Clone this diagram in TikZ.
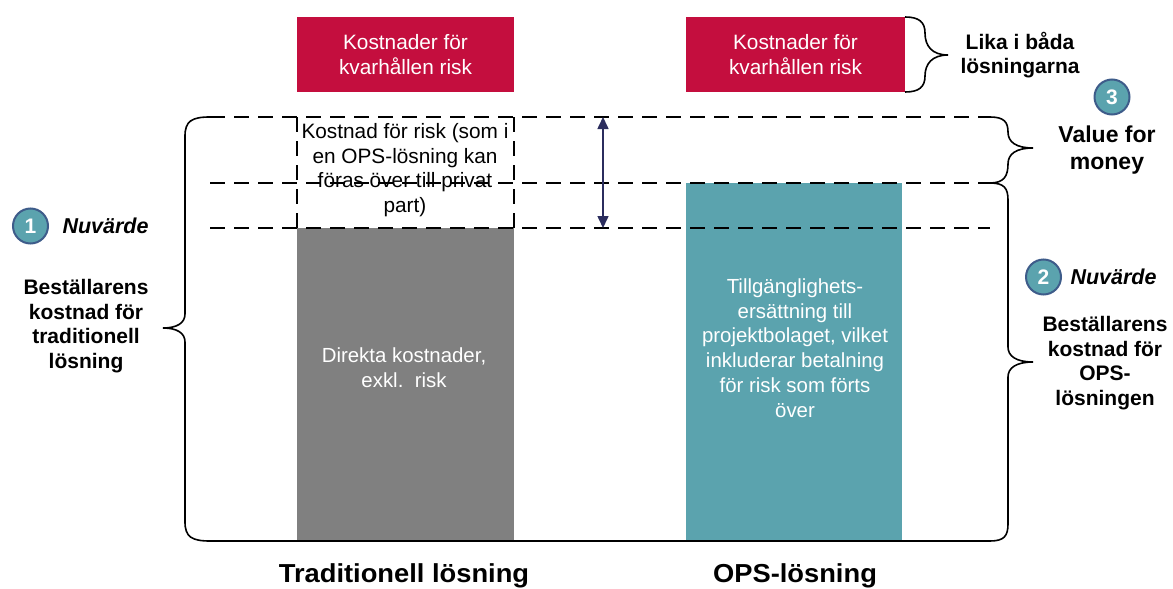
\documentclass[tikz,border=0pt]{standalone}
\usepackage{fontspec}
\setmainfont{Liberation Sans}
\usetikzlibrary{arrows.meta}
\definecolor{crimson}{RGB}{196,14,62}
\definecolor{barGray}{RGB}{128,128,128}
\definecolor{teal2}{RGB}{91,163,174}
\definecolor{navy}{RGB}{43,45,94}
\definecolor{ringblue}{RGB}{62,92,138}
\tikzset{
  redbox/.style={fill=crimson, draw=none, minimum width=217pt, minimum height=75pt, text=white, align=center, font=\fontsize{20.8}{24.5}\selectfont, inner sep=0pt},
  bartext/.style={text=white, align=center, font=\fontsize{20.4}{24.8}\selectfont},
  plaintext/.style={align=center, font=\fontsize{20.8}{24.5}\selectfont},
  boldtext/.style={align=center, font=\fontsize{21}{24.5}\selectfont\bfseries},
  numcircle/.style={circle, fill=teal2, draw=ringblue, line width=2pt, minimum size=35pt, inner sep=0pt, text=white, font=\fontsize{21}{21}\selectfont\bfseries},
  nuv/.style={anchor=west, font=\fontsize{21.5}{21.5}\selectfont\bfseries\itshape},
  dashline/.style={line width=1.8pt, dash pattern=on 15pt off 9pt},
  bracepath/.style={line width=1.6pt},
  bottomlabel/.style={font=\fontsize{26}{26}\selectfont\bfseries}
}
\begin{document}
\begin{tikzpicture}[x=1pt,y=-1pt]
\useasboundingbox (0,0) rectangle (1173,589);
% red boxes
\node[redbox] (redL) at (405.5,54.5) {Kostnader för\\kvarhållen risk};
\node[redbox, minimum width=219pt] (redR) at (795.5,54.5) {Kostnader för\\kvarhållen risk};
% bars
\fill[barGray] (297,228) rectangle (514,541);
\fill[teal2] (686,183) rectangle (902,541);
\node[bartext] (direkt) at (404,368) {Direkta kostnader,\\exkl.\ \ risk};
\node[bartext] (tillg) at (795,348) {Tillgänglighets-\\ersättning till\\projektbolaget, vilket\\inkluderar betalning\\för risk som förts\\över};
% dashed lines
\draw[dashline] (210,117) -- (990,117);
\draw[dashline] (210,183) -- (990,183);
\draw[dashline] (210,228) -- (990,228);
\draw[dashline] (297,117) -- (297,228);
\draw[dashline] (514,117) -- (514,228);
\node[plaintext, inner sep=1pt] (risk) at (405,170) {Kostnad för risk (som i\\en OPS-lösning kan\\föras över till privat\\part)};
% bottom line
\draw[line width=1.8pt] (210,541) -- (990,541);
% double arrow
\coordinate (aTop) at (603,117);
\coordinate (aBot) at (603,228);
\draw[navy, line width=1.6pt, {Triangle[length=12pt,width=11pt]}-{Triangle[length=12pt,width=11pt]}] (aTop) -- (aBot);
% left brace
\draw[bracepath] (210,117) .. controls (192,117) and (185,121) .. (185,136) -- (185,314)
  .. controls (185,323) and (177,328) .. (163,328)
  .. controls (177,328) and (185,333) .. (185,342) -- (185,522)
  .. controls (185,537) and (192,541) .. (210,541);
% right big brace
\draw[bracepath] (990,183) .. controls (1004,183) and (1008,188) .. (1008,200) -- (1008,347)
  .. controls (1008,356) and (1016,362) .. (1033,362)
  .. controls (1016,362) and (1008,368) .. (1008,377) -- (1008,524)
  .. controls (1008,536) and (1004,541) .. (990,541);
% value for money brace
\draw[bracepath] (990,117) .. controls (1004,117) and (1008,122) .. (1008,132)
  .. controls (1008,142) and (1016,148) .. (1033,148)
  .. controls (1016,148) and (1008,154) .. (1008,164)
  .. controls (1008,176) and (1004,183) .. (990,183);
% lika brace
\draw[bracepath] (905,17) .. controls (919,17) and (925,22) .. (925,33)
  .. controls (925,46) and (932,55) .. (948,55)
  .. controls (932,55) and (925,64) .. (925,76)
  .. controls (925,87) and (919,92) .. (905,92);
% labels right
\node[boldtext] (lika) at (1020,55) {Lika i båda\\lösningarna};
\node[numcircle] (c3) at (1112,97) {3};
\node[boldtext, font=\fontsize{23}{27}\selectfont\bfseries] (vfm) at (1107,150) {Value for\\money};
\node[numcircle] (c2) at (1043.5,277) {2};
\node[nuv] (nuv2) at (1067,277) {Nuvärde};
\node[boldtext] (bestR) at (1105,363) {Beställarens\\kostnad för\\OPS-\\lösningen};
% labels left
\node[numcircle] (c1) at (30.5,226) {1};
\node[nuv] (nuv1) at (59,226) {Nuvärde};
\node[boldtext] (bestL) at (86,326) {Beställarens\\kostnad för\\traditionell\\lösning};
% bottom labels
\node[bottomlabel] (tradL) at (404,576) {\scalebox{1.05}[1]{Traditionell lösning}};
\node[bottomlabel] (opsL) at (795,576) {\scalebox{1.05}[1]{OPS-lösning}};
\end{tikzpicture}
\end{document}
